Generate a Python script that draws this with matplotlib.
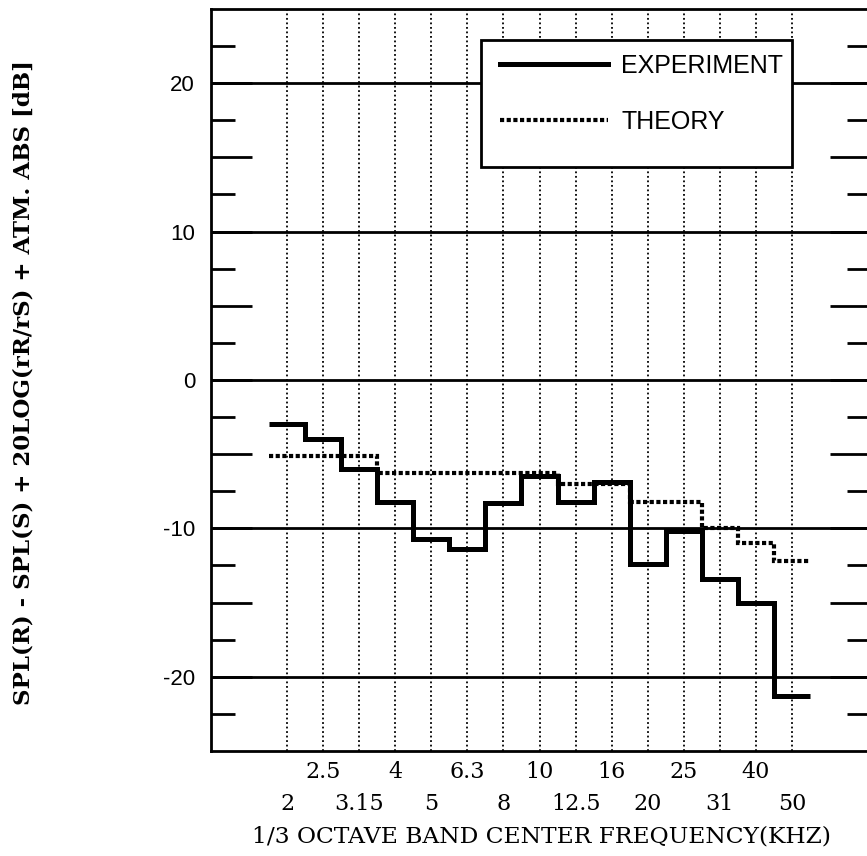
import numpy as np
import matplotlib
matplotlib.use("Agg")
import matplotlib.pyplot as plt
from matplotlib.patches import Rectangle
from matplotlib.ticker import FixedLocator, FuncFormatter

# 1/3 octave band centre frequencies (kHz)
bands = ['2', '2.5', '3.15', '4', '5', '6.3', '8', '10',
         '12.5', '16', '20', '25', '31', '40', '50']

# level difference per band [dB]
experiment = [-3.0, -4.0, -6.0, -8.2, -10.7, -11.4, -8.3, -6.5,
              -8.2, -6.9, -12.4, -10.2, -13.4, -15.0, -21.3]
theory = [-5.1, -5.1, -5.1, -6.3, -6.3, -6.3, -6.3, -6.3,
          -7.0, -7.0, -8.2, -8.2, -10.0, -11.0, -12.2]

grid_levels = [-20, -10, 0, 10, 20]

plt.rcParams['axes.unicode_minus'] = False

fig = plt.figure(figsize=(8.67, 8.56), dpi=100)
ax = fig.add_axes([0.2434, 0.1227, 0.7612, 0.8668])

pos = np.arange(len(bands))
edges = np.arange(len(bands) + 1) - 0.5

ax.set_xlim(-2.107, 16.19)
ax.set_ylim(-25, 25)

# dotted verticals at every band centre
for x in pos:
    ax.axvline(x, color='black', lw=1.3, linestyle=(0, (1, 1.5)), zorder=1)
for y in grid_levels:
    ax.axhline(y, color='black', lw=2.0, zorder=1)

ax.stairs(experiment, edges, baseline=None, color='black', lw=3.6,
          zorder=4, label='EXPERIMENT')
ax.stairs(theory, edges, baseline=None, color='black', lw=3.0,
          linestyle=(0, (1, 0.6)), capstyle='butt', zorder=3, label='THEORY')

# y ticks: long at 5s, short at 2.5s, labels only on the 10s
ax.yaxis.set_major_locator(FixedLocator(np.arange(-20, 21, 5)))
ax.yaxis.set_minor_locator(FixedLocator(np.arange(-22.5, 23, 5)))
ax.yaxis.set_major_formatter(FuncFormatter(lambda v, p: '%d' % v if v % 10 == 0 else ''))
ax.tick_params(axis='y', which='major', direction='in', length=29.5, width=2,
               left=True, right=True, labelsize=16, pad=11.5)
ax.tick_params(axis='y', which='minor', direction='in', length=17.3, width=2,
               left=True, right=True)
for t in ax.get_yticklabels():
    t.set_fontfamily('Liberation Sans')

# staggered frequency labels: odd bands on the upper row, even on the lower
ax.set_xticks(pos[::2], bands[::2])
ax.set_xticks(pos[1::2], bands[1::2], minor=True)
ax.tick_params(axis='x', which='both', length=0, labelsize=16)
ax.tick_params(axis='x', which='major', pad=30)
ax.tick_params(axis='x', which='minor', pad=7)
for t in ax.get_xticklabels(which='both'):
    t.set_fontfamily('DejaVu Serif')

for s in ax.spines.values():
    s.set_linewidth(2)

ax.set_xlabel('1/3 OCTAVE BAND CENTER FREQUENCY(KHZ)', fontsize=16.8,
              family='DejaVu Serif', labelpad=8)
fig.text(0.027, 0.553, 'SPL(R) - SPL(S) + 20LOG(rR/rS) + ATM. ABS [dB]',
         rotation=90, ha='center', va='center', fontsize=16.5,
         family='DejaVu Serif', fontweight='bold')

# legend box
ax.add_patch(Rectangle((0.409, 0.787), 0.471, 0.171, transform=ax.transAxes,
                       facecolor='white', edgecolor='black', lw=2, zorder=5))
leg = ax.legend(loc='upper left', bbox_to_anchor=(0.438, 0.940), frameon=False,
                borderpad=0, borderaxespad=0, handlelength=4.3,
                handletextpad=0.55, labelspacing=1.3,
                prop={'family': 'Liberation Sans', 'size': 18})
leg.set_zorder(6)

fig.savefig('out.png', dpi=100)
